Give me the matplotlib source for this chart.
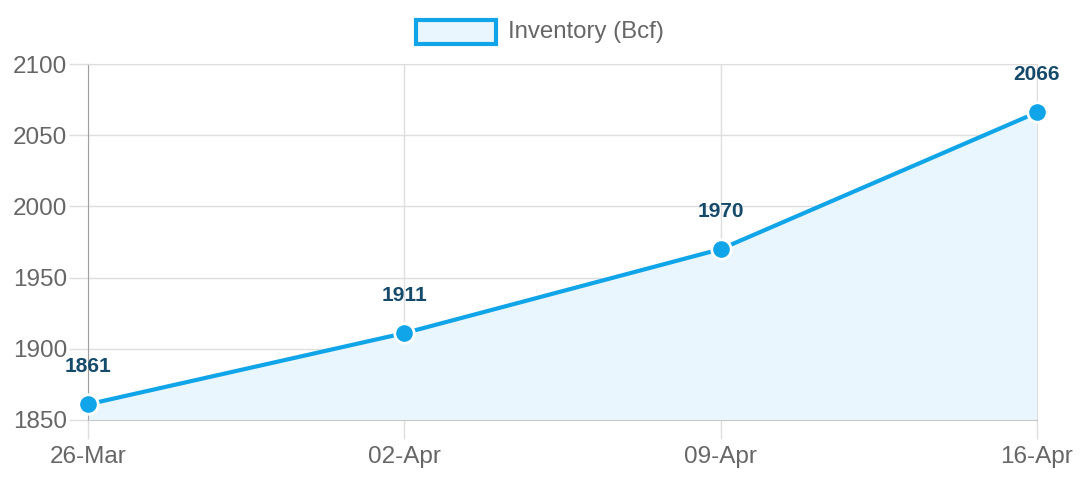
import matplotlib.pyplot as plt
from matplotlib.patches import Rectangle

plt.rcParams['font.family'] = ['Liberation Sans', 'DejaVu Sans']

dates = ['26-Mar', '02-Apr', '09-Apr', '16-Apr']
inventory = [1861, 1911, 1970, 2066]
yticks = [1850, 1900, 1950, 2000, 2050, 2100]

line_col = '#10a5e8'
fill_col = '#eaf6fd'
label_col = '#154a6b'
grid_col = '#dedede'

fig = plt.figure(figsize=(10.8, 4.8), dpi=100)
ax = fig.add_axes([88 / 1080, 1 - 420 / 480, (1037 - 88) / 1080, (420 - 64) / 480])

x = list(range(len(dates)))
ax.fill_between(x, inventory, 1850, color=fill_col, zorder=1)
ax.plot(x, inventory, color=line_col, lw=3, zorder=3, clip_on=False,
        marker='o', ms=14, mfc=line_col, mec='white', mew=2)

for xi, v in zip(x, inventory):
    ax.annotate(str(v), (xi, v), xytext=(0, 27), textcoords='offset points',
                ha='center', va='center', fontsize=15, fontweight='bold',
                color=label_col, zorder=4)

ax.set_xlim(0, 3)
ax.set_ylim(1850, 2100)
ax.set_xticks(x)
ax.set_xticklabels(dates)
ax.set_yticks(yticks)
ax.grid(True, color=grid_col, lw=1, zorder=0)
ax.tick_params(axis='both', length=14, width=1, color=grid_col,
               labelsize=17.5, labelcolor='#666666', pad=1)
ax.tick_params(axis='x', pad=5)

ax.spines['top'].set_color(grid_col)
ax.spines['right'].set_color(grid_col)
ax.spines['left'].set_color('#a0a0a0')
ax.spines['bottom'].set_color('#c8c8c8')
ax.set_axisbelow(True)

# legend
fig.add_artist(Rectangle((416 / 1080, 1 - 44 / 480), 80 / 1080, 24 / 480,
                         transform=fig.transFigure, facecolor=fill_col,
                         edgecolor=line_col, lw=3))
fig.text(508 / 1080, 1 - 32 / 480, 'Inventory (Bcf)', fontsize=17.3,
         color='#666666', va='center', ha='left')

fig.savefig('out.png', dpi=100)
